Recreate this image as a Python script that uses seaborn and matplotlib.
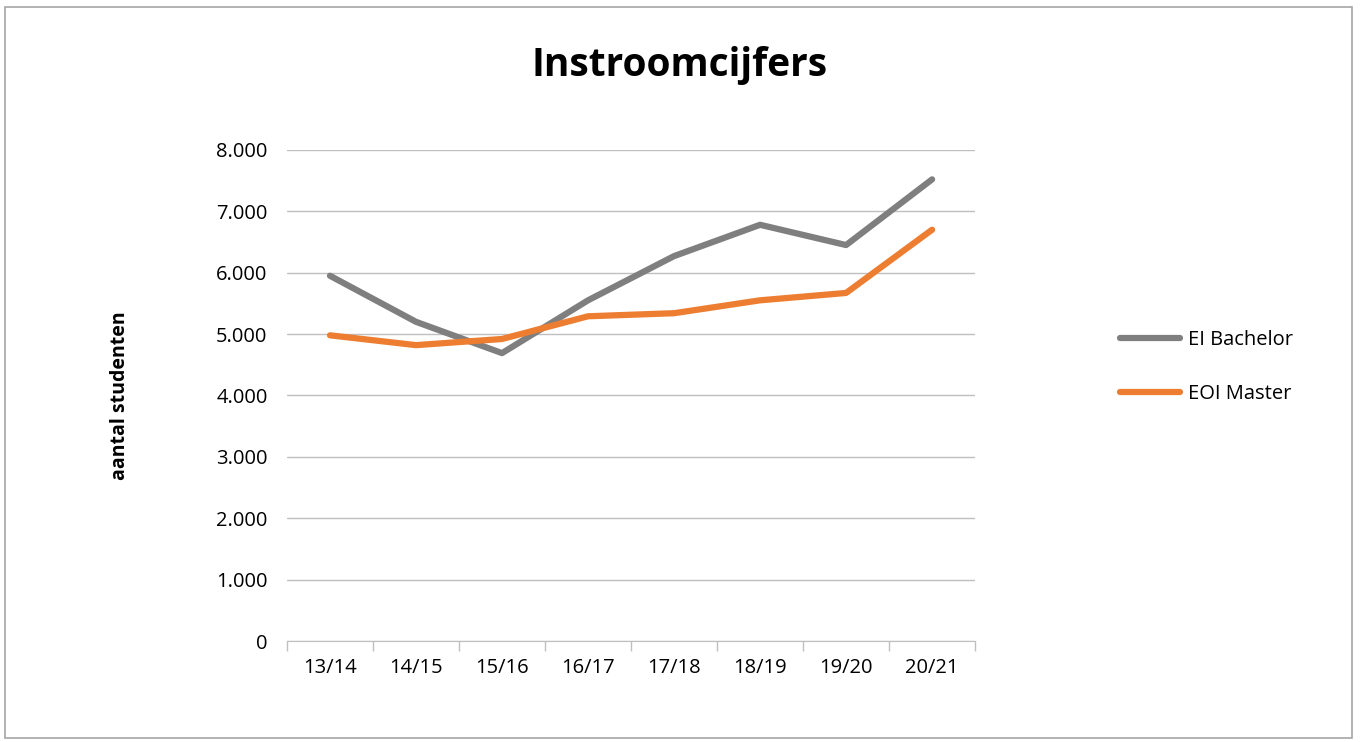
import matplotlib
matplotlib.use('Agg')
import matplotlib.pyplot as plt
import matplotlib.ticker as mticker
from matplotlib.lines import Line2D
import seaborn as sns
import pandas as pd

years = ['13/14', '14/15', '15/16', '16/17', '17/18', '18/19', '19/20', '20/21']
bachelor = [5950, 5200, 4690, 5550, 6270, 6780, 6450, 7520]
master = [4980, 4820, 4920, 5290, 5340, 5550, 5670, 6700]
series = ['EI Bachelor', 'EOI Master']

df = pd.DataFrame({'jaar': years * 2,
                   'waarde': bachelor + master,
                   'reeks': [series[0]] * len(years) + [series[1]] * len(years)})
df['x'] = list(range(len(years))) * 2

sns.set_style('white')
plt.rcParams['font.family'] = ['Open Sans', 'DejaVu Sans']
plt.rcParams['text.color'] = 'black'

fig = plt.figure(figsize=(13.6, 7.42), dpi=100)
ax = fig.add_axes([0.211, 0.136, 0.506, 0.662])
sns.lineplot(data=df, x='x', y='waarde', hue='reeks',
             palette={series[0]: '#7f7f7f', series[1]: '#ed7d31'},
             linewidth=4.5, ax=ax, legend=False)

ax.set_xlim(-0.5, len(years) - 0.5)
ax.set_ylim(0, 8000)
ax.set_yticks(range(0, 8001, 1000))
ax.yaxis.set_major_formatter(mticker.FuncFormatter(
    lambda v, p: '0' if v == 0 else f'{int(v):,}'.replace(',', '.')))
ax.set_xticks(range(len(years)))
ax.set_xticklabels(years)
ax.set_xticks([i - 0.5 for i in range(len(years) + 1)], minor=True)
ax.tick_params(axis='x', which='minor', bottom=True, length=7, color='#bfbfbf', width=1)
ax.tick_params(axis='x', which='major', length=0, pad=12)
ax.tick_params(axis='y', length=0, pad=14)
ax.tick_params(labelsize=14.5, labelcolor='black')
ax.grid(axis='y', color='#bfbfbf', linewidth=1)
for s in ['top', 'right', 'left']:
    ax.spines[s].set_visible(False)
ax.spines['bottom'].set_color('#bfbfbf')
ax.set_xlabel('')
ax.set_ylabel('aantal studenten', fontsize=14, fontweight='bold', labelpad=62, color='black')

fig.text(0.5, 0.912, 'Instroomcijfers', ha='center', va='center',
         fontsize=28, fontweight='bold', color='black')

handles = [Line2D([], [], color='#7f7f7f', lw=4.5), Line2D([], [], color='#ed7d31', lw=4.5)]
fig.legend(handles, series, loc='center left', bbox_to_anchor=(0.81, 0.505),
           frameon=False, fontsize=14.5, handlelength=3.0, handletextpad=0.4,
           labelspacing=1.7)

fig.patches.append(plt.Rectangle((0.004, 0.006), 0.99, 0.984, transform=fig.transFigure,
                                 fill=False, edgecolor='#a6a6a6', lw=1.2))
fig.savefig('out.png', dpi=100)
